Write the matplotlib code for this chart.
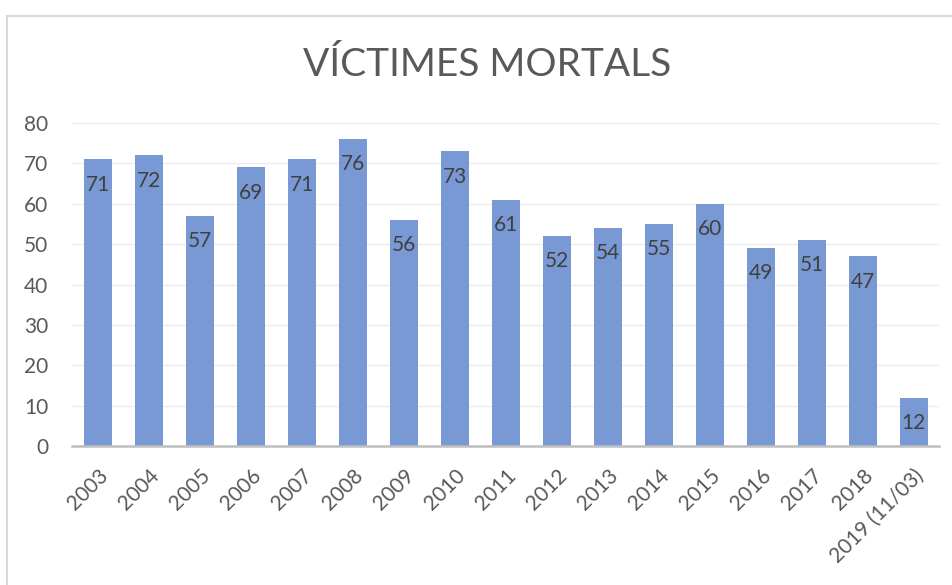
import matplotlib.pyplot as plt
from matplotlib.lines import Line2D

years = ["2003", "2004", "2005", "2006", "2007", "2008", "2009", "2010", "2011",
         "2012", "2013", "2014", "2015", "2016", "2017", "2018", "2019 (11/03)"]
deaths = [71, 72, 57, 69, 71, 76, 56, 73, 61, 52, 54, 55, 60, 49, 51, 47, 12]
y_ticks = [0, 10, 20, 30, 40, 50, 60, 70, 80]

plt.rcParams["font.family"] = ["Lato", "DejaVu Sans"]
text_color = "#595959"
bar_color = "#7899d4"

fig = plt.figure(figsize=(9.53, 5.85), dpi=100)
ax = fig.add_axes([0.0756, 0.2376, 0.910, 0.5521])

x = range(len(years))
bars = ax.bar(x, deaths, width=0.55, color=bar_color, zorder=2)

for b, v in zip(bars, deaths):
    ax.annotate(str(v), (b.get_x() + b.get_width() / 2, v), xytext=(0, -11),
                textcoords="offset points", ha="center", va="top",
                fontsize=15, color="#404040", zorder=3)

ax.set_xlim(-0.5, len(years) - 0.5)
ax.set_ylim(0, 80)
ax.set_yticks(y_ticks)
ax.set_xticks(list(x))
ax.set_xticklabels(years, rotation=45, ha="right", rotation_mode="anchor")
ax.tick_params(axis="both", length=0, labelsize=15, colors=text_color)
ax.tick_params(axis="y", pad=17)
ax.tick_params(axis="x", pad=14)

ax.grid(axis="y", color="#ececec", linewidth=1, zorder=0)
for s in ["top", "right", "left"]:
    ax.spines[s].set_visible(False)
ax.spines["bottom"].set_color("#bfbfbf")
ax.spines["bottom"].set_linewidth(1.8)
ax.spines["bottom"].set_zorder(3)

fig.text(0.511, 0.889, "VÍCTIMES MORTALS", ha="center", va="center",
         fontsize=28, color=text_color)

# chart area border (cut off at right and bottom)
fig.add_artist(Line2D([0.0077, 1.0], [0.9726, 0.9726], color="#d9d9d9", linewidth=1.5))
fig.add_artist(Line2D([0.0077, 0.0077], [0.0, 0.9726], color="#d9d9d9", linewidth=1.5))

fig.savefig("out.png", dpi=100, facecolor="white")
